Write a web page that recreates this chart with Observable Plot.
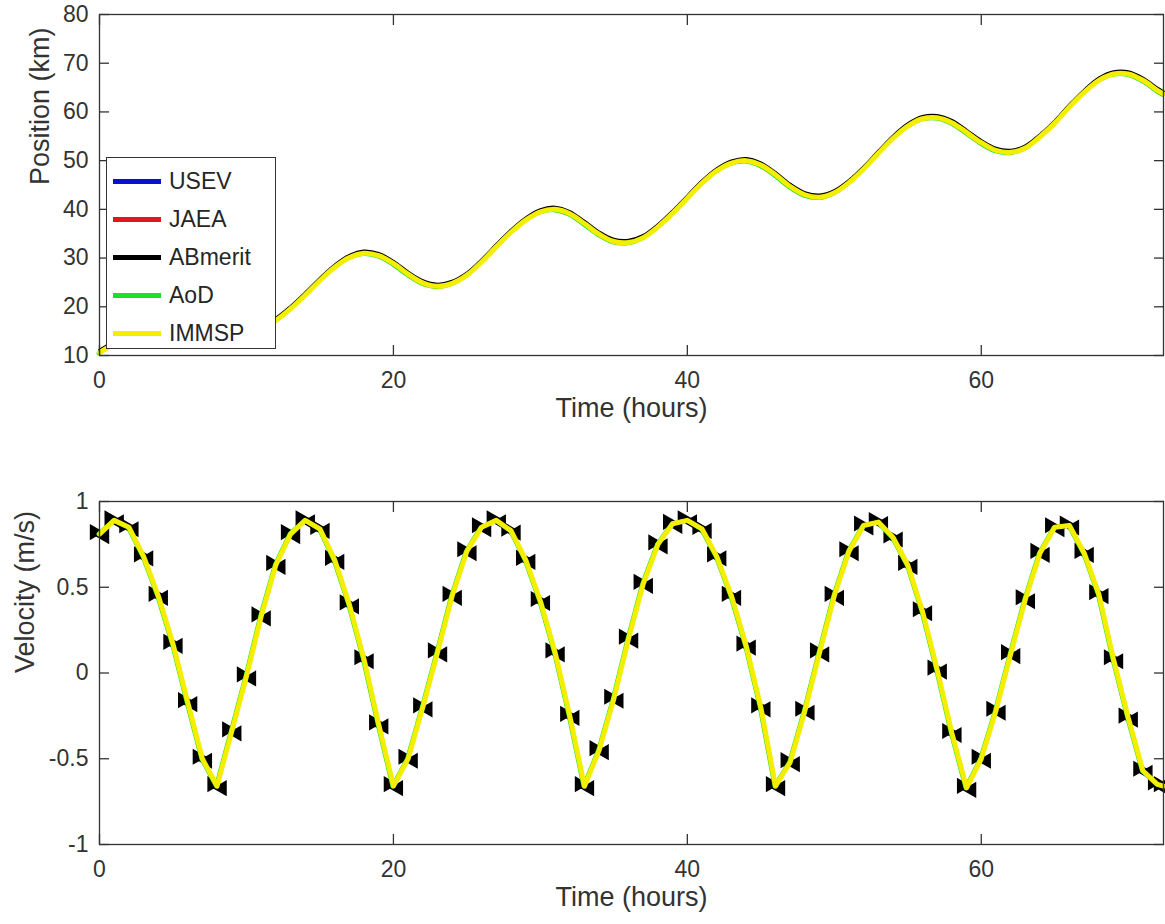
<!DOCTYPE html>
<html>
<head>
<meta charset="utf-8">
<script src="https://cdn.jsdelivr.net/npm/d3@7"></script>
<script src="https://cdn.jsdelivr.net/npm/@observablehq/plot@0.6"></script>
<style>
  body { margin: 0; background: #fff; font-family: "Liberation Sans", Arial, sans-serif; }
  #wrap { position: relative; width: 1165px; height: 924px; overflow: hidden; }
  #wrap svg { display: block; }
  #legend { position: absolute; left: 106px; top: 157px; width: 170px; height: 192px;
            border: 1.2px solid #333; background: #fff; box-sizing: border-box; }
  .item { position: absolute; left: 0; height: 30px; width: 168px; }
  .swatch { position: absolute; left: 6px; top: 13px; width: 48px; height: 5px; }
  .lab { position: absolute; left: 62px; top: 0; line-height: 30px; font-size: 23px; color: #262626; }
</style>
</head>
<body>
<div id="wrap"></div>
<script>
// ---- data ----
const series = ["USEV", "JAEA", "ABmerit", "AoD", "IMMSP"];
const seriesColors = ["#0a12c8", "#e01818", "#000000", "#22dd22", "#f4ee00"];

const hours = [0,1,2,3,4,5,6,7,8,9,10,11,12,13,14,15,16,17,18,19,20,21,22,23,24,25,26,27,28,29,
  30,31,32,33,34,35,36,37,38,39,40,41,42,43,44,45,46,47,48,49,50,51,52,53,54,55,56,57,58,59,
  60,61,62,63,64,65,66,67,68,69,70,71,72,72.4];

const position = [10.6,12.5,14.6,16.5,17.9,18.6,18.5,17.6,16.3,15.3,14.9,15.6,17.2,19.6,22.4,25.4,28.1,30.1,31.0,30.5,
  28.9,26.7,24.9,24.2,24.8,26.5,29.2,32.3,35.3,37.8,39.5,40.0,39.1,37.1,34.9,33.4,33.2,34.2,36.4,39.2,
  42.3,45.4,47.9,49.5,50.0,49.1,47.1,44.7,43.0,42.5,43.4,45.5,48.3,51.5,54.6,57.1,58.6,58.8,57.8,55.8,
  53.7,52.1,51.7,52.6,54.9,57.7,61.0,64.0,66.5,67.8,67.8,66.5,64.4,63.7];

const velocity = [0.81,0.89,0.85,0.68,0.45,0.17,-0.17,-0.50,-0.66,-0.34,-0.02,0.33,0.63,0.81,0.89,0.84,0.66,0.40,0.08,-0.30,
  -0.66,-0.50,-0.20,0.12,0.45,0.71,0.85,0.89,0.83,0.66,0.42,0.12,-0.25,-0.66,-0.45,-0.15,0.20,0.52,0.75,0.87,
  0.89,0.84,0.68,0.45,0.16,-0.20,-0.66,-0.52,-0.22,0.12,0.45,0.71,0.86,0.88,0.79,0.63,0.36,0.02,-0.35,-0.67,
  -0.50,-0.22,0.11,0.43,0.70,0.85,0.86,0.70,0.46,0.08,-0.26,-0.57,-0.65,-0.66];

const timeTicks = [0, 20, 40, 60];
const positionTicks = [10, 20, 30, 40, 50, 60, 70, 80];
const velocityTicks = [-1, -0.5, 0, 0.5, 1];
const xLabel = "Time (hours)";
const posLabel = "Position (km)";
const velLabel = "Velocity (m/s)";

// ---- build ----
const rows = hours.map((t, i) => ({t, p: position[i], v: velocity[i]}));
const lineStyle = {
  USEV:    {w: 3, dx: 0, dy: 0},
  JAEA:    {w: 3, dx: 0, dy: 0},
  ABmerit: {w: 3, dx: 0, dy: -2.2},
  AoD:     {w: 4, dx: -1, dy: 0.8},
  IMMSP:   {w: 5, dx: 0, dy: 0}
};
const ink = "#333";
const font = "'Liberation Sans', Arial, Helvetica, sans-serif";
const tickLen = 10; // px
const xDomain = [0, 72.4];

function frameAxes(xt, yt) {
  return [
    Plot.frame({stroke: ink, strokeWidth: 1.3}),
    Plot.axisX(xt, {anchor: "bottom", tickSize: -tickLen, stroke: ink, strokeWidth: 1.3, tickPadding: 16 + tickLen, fontSize: 23, fill: ink, tickFormat: d => String(d), label: null}),
    Plot.axisX(xt, {anchor: "top", tickSize: -tickLen, stroke: ink, strokeWidth: 1.3, tickFormat: () => "", label: null}),
    Plot.axisY(yt, {anchor: "left", tickSize: -tickLen, stroke: ink, strokeWidth: 1.3, tickPadding: 11 + tickLen, fontSize: 23, fill: ink, tickFormat: d => String(d), label: null}),
    Plot.axisY(yt, {anchor: "right", tickSize: -tickLen, stroke: ink, strokeWidth: 1.3, tickFormat: () => "", label: null})
  ];
}

function seriesLines(yKey, withMarkers) {
  const marks = [];
  series.forEach((s, i) => {
    const st = lineStyle[s];
    marks.push(Plot.line(rows, {x: "t", y: yKey, stroke: seriesColors[i], strokeWidth: st.w,
      dx: st.dx, dy: yKey === "p" ? st.dy : 0, curve: yKey === "p" ? "catmull-rom" : "linear",
      strokeLinejoin: "round", strokeLinecap: "round"}));
    if (withMarkers && s === "ABmerit") {
      marks.push(Plot.dot(rows, {x: "t", y: yKey, symbol: "triangle", rotate: 90, r: 6, fill: "black", dx: -5, dy: -2}));
      marks.push(Plot.dot(rows, {x: "t", y: yKey, symbol: "triangle", rotate: -90, r: 6, fill: "black", dx: 5, dy: 2}));
    }
  });
  return marks;
}

const posDomain = [10, 80];
const velDomain = [-1, 1];

const topChart = Plot.plot({
  width: 1165, height: 440,
  marginLeft: 99, marginRight: 2, marginTop: 14, marginBottom: 85,
  style: {fontFamily: font, background: "white", overflow: "visible", color: ink},
  x: {domain: xDomain},
  y: {domain: posDomain},
  marks: [
    ...seriesLines("p", false),
    ...frameAxes(timeTicks, positionTicks),
    Plot.text([xLabel], {text: d => d, frameAnchor: "bottom", dy: 61, fontSize: 27, fill: ink}),
    Plot.text([posLabel], {text: d => d, frameAnchor: "left", rotate: -90, dx: -59, fontSize: 27, fill: ink})
  ]
});

const bottomChart = Plot.plot({
  width: 1165, height: 484,
  marginLeft: 99, marginRight: 2, marginTop: 61, marginBottom: 80,
  style: {fontFamily: font, background: "white", overflow: "visible", color: ink},
  x: {domain: xDomain},
  y: {domain: velDomain},
  marks: [
    ...seriesLines("v", true),
    ...frameAxes(timeTicks, velocityTicks),
    Plot.text([xLabel], {text: d => d, frameAnchor: "bottom", dy: 61, fontSize: 27, fill: ink}),
    Plot.text([velLabel], {text: d => d, frameAnchor: "left", rotate: -90, dx: -74, fontSize: 27, fill: ink})
  ]
});

const wrap = document.getElementById("wrap");
wrap.appendChild(topChart);
wrap.appendChild(bottomChart);

// legend inside the top axes
const legend = document.createElement("div");
legend.id = "legend";
series.forEach((s, i) => {
  const item = document.createElement("div");
  item.className = "item";
  item.style.top = (8 + i * 38) + "px";
  const sw = document.createElement("div");
  sw.className = "swatch";
  sw.style.background = seriesColors[i];
  const lab = document.createElement("div");
  lab.className = "lab";
  lab.textContent = s;
  item.appendChild(sw);
  item.appendChild(lab);
  legend.appendChild(item);
});
wrap.appendChild(legend);
</script>
</body>
</html>
